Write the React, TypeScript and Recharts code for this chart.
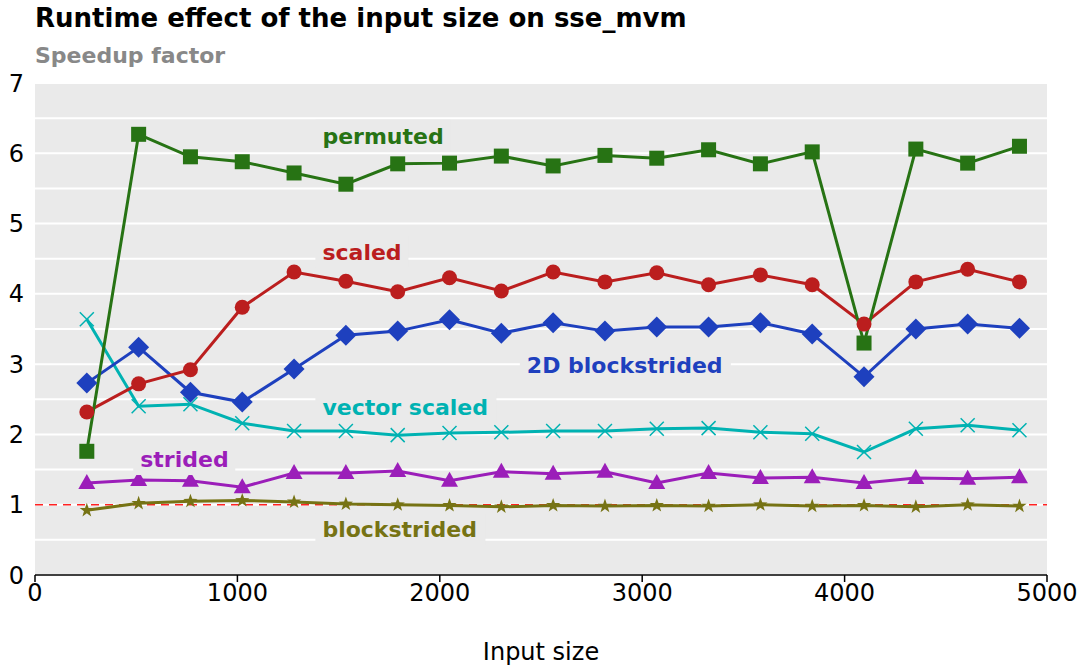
import React from 'react';
import { LineChart, Line, XAxis, YAxis, CartesianGrid, ReferenceLine, ReferenceDot } from 'recharts';

const sizes = [256, 512, 768, 1024, 1280, 1536, 1792, 2048, 2304, 2560, 2816, 3072, 3328, 3584, 3840, 4096, 4352, 4608, 4864];
const permuted = [1.76, 6.27, 5.95, 5.88, 5.72, 5.56, 5.85, 5.86, 5.96, 5.82, 5.97, 5.93, 6.05, 5.85, 6.02, 3.3, 6.06, 5.86, 6.1];
const scaled = [2.32, 2.72, 2.92, 3.81, 4.31, 4.18, 4.03, 4.23, 4.04, 4.31, 4.17, 4.3, 4.13, 4.27, 4.13, 3.57, 4.17, 4.35, 4.17];
const blockstrided2D = [2.73, 3.24, 2.6, 2.46, 2.93, 3.41, 3.47, 3.63, 3.44, 3.59, 3.47, 3.53, 3.53, 3.59, 3.43, 2.82, 3.5, 3.57, 3.51];
const vectorScaled = [3.64, 2.4, 2.43, 2.16, 2.05, 2.05, 1.99, 2.02, 2.03, 2.05, 2.05, 2.08, 2.09, 2.03, 2.01, 1.75, 2.08, 2.13, 2.06];
const strided = [1.31, 1.35, 1.34, 1.25, 1.45, 1.45, 1.48, 1.34, 1.47, 1.44, 1.47, 1.31, 1.45, 1.38, 1.39, 1.31, 1.38, 1.37, 1.39];
const blockstrided = [0.92, 1.02, 1.05, 1.06, 1.04, 1.01, 1.0, 0.99, 0.97, 0.99, 0.98, 0.99, 0.98, 1.0, 0.98, 0.99, 0.97, 1.0, 0.98];

const xTicks = [0, 1000, 2000, 3000, 4000, 5000];
const yTicks = [0, 0.5, 1, 1.5, 2, 2.5, 3, 3.5, 4, 4.5, 5, 5.5, 6, 6.5, 7];

const data = sizes.map((size, i) => ({
  size,
  permuted: permuted[i],
  scaled: scaled[i],
  blockstrided2D: blockstrided2D[i],
  vectorScaled: vectorScaled[i],
  strided: strided[i],
  blockstrided: blockstrided[i],
}));

const C = {
  permuted: '#277314',
  scaled: '#bb1e1e',
  blockstrided2D: '#1e40be',
  vectorScaled: '#00b2b2',
  strided: '#9b1eb9',
  blockstrided: '#767314',
};

const BG = '#eaeaea';
const FONT = '"DejaVu Sans", Verdana, sans-serif';

// series labels written inside the plot
const notes = [
  { text: 'permuted', x: 1420, y: 6.25, color: C.permuted, w: 122 },
  { text: 'scaled', x: 1420, y: 4.6, color: C.scaled, w: 80 },
  { text: '2D blockstrided', x: 2430, y: 2.99, color: C.blockstrided2D, w: 198 },
  { text: 'vector scaled', x: 1420, y: 2.39, color: C.vectorScaled, w: 168 },
  { text: 'strided', x: 520, y: 1.65, color: C.strided, w: 89 },
  { text: 'blockstrided', x: 1420, y: 0.65, color: C.blockstrided, w: 157 },
];

const square = (color: string) => (p: any) => (
  <rect key={p.index} x={p.cx - 7.5} y={p.cy - 7.5} width={15} height={15} fill={color} />
);
const circle = (color: string) => (p: any) => (
  <circle key={p.index} cx={p.cx} cy={p.cy} r={7.5} fill={color} />
);
const diamond = (color: string) => (p: any) => (
  <path key={p.index} d={`M${p.cx},${p.cy - 10.5}L${p.cx + 10.5},${p.cy}L${p.cx},${p.cy + 10.5}L${p.cx - 10.5},${p.cy}Z`} fill={color} />
);
const cross = (color: string) => (p: any) => (
  <path key={p.index} d={`M${p.cx - 7},${p.cy - 7}L${p.cx + 7},${p.cy + 7}M${p.cx - 7},${p.cy + 7}L${p.cx + 7},${p.cy - 7}`} stroke={color} strokeWidth={1.5} fill="none" />
);
const triangle = (color: string) => (p: any) => (
  <path key={p.index} d={`M${p.cx},${p.cy - 9}L${p.cx + 8.5},${p.cy + 6}L${p.cx - 8.5},${p.cy + 6}Z`} fill={color} />
);
const star = (color: string) => (p: any) => {
  const pts: string[] = [];
  for (let k = 0; k < 10; k++) {
    const r = k % 2 === 0 ? 7.5 : 3;
    const a = -Math.PI / 2 + (k * Math.PI) / 5;
    pts.push(`${p.cx + r * Math.cos(a)},${p.cy + r * Math.sin(a)}`);
  }
  return <polygon key={p.index} points={pts.join(' ')} fill={color} />;
};

const noteShape = (n: typeof notes[number]) => (p: any) => (
  <g>
    <rect x={p.cx - 7} y={p.cy - 16} width={n.w + 13} height={32} fill={BG} />
    <text x={p.cx} y={p.cy} dy="0.36em" fill={n.color} fontSize={22} fontWeight="bold" fontFamily={FONT}>
      {n.text}
    </text>
  </g>
);

const YTick = (props: any) => {
  const { x, y, payload } = props;
  if (payload.value % 1 !== 0) return null;
  return (
    <text x={x} y={y} dy="0.36em" textAnchor="end" fontSize={24} fontFamily={FONT} fill="#000">
      {payload.value}
    </text>
  );
};

export default function App() {
  return (
    <div style={{ position: 'absolute', left: 0, top: 0, width: 1091, height: 669, background: '#fff', fontFamily: FONT }}>
      <div style={{ position: 'absolute', left: 35, top: 5, fontSize: 26, lineHeight: '26px', fontWeight: 'bold', color: '#000', whiteSpace: 'nowrap' }}>
        Runtime effect of the input size on sse_mvm
      </div>
      <div style={{ position: 'absolute', left: 35, top: 45, fontSize: 22, lineHeight: '22px', fontWeight: 'bold', color: '#888', whiteSpace: 'nowrap' }}>
        Speedup factor
      </div>
      <LineChart width={1091} height={669} data={data} margin={{ top: 83, right: 44, left: 0, bottom: 0 }}>
        <CartesianGrid vertical={false} stroke="#fff" strokeWidth={2} fill={BG} fillOpacity={1} />
        <XAxis
          dataKey="size"
          type="number"
          domain={[0, 5000]}
          ticks={xTicks}
          height={94}
          axisLine={{ stroke: '#000', strokeWidth: 1.5 }}
          tickLine={{ stroke: '#000', strokeWidth: 1.5 }}
          tickSize={7}
          tickMargin={2}
          tick={{ fill: '#000', fontSize: 24, fontFamily: FONT }}
          label={{ value: 'Input size', position: 'insideBottom', offset: 9, fill: '#000', fontSize: 24, fontFamily: FONT }}
        />
        <YAxis
          type="number"
          domain={[0, 7]}
          ticks={yTicks}
          width={35}
          axisLine={false}
          tickLine={false}
          tickSize={6}
          tickMargin={5}
          interval={0}
          tick={<YTick />}
        />
        <ReferenceLine y={1} stroke="#f22" strokeWidth={1.5} strokeDasharray="8 6" />
        <Line dataKey="blockstrided" stroke={C.blockstrided} strokeWidth={3} dot={star(C.blockstrided)} isAnimationActive={false} />
        <Line dataKey="strided" stroke={C.strided} strokeWidth={3} dot={triangle(C.strided)} isAnimationActive={false} />
        <Line dataKey="vectorScaled" stroke={C.vectorScaled} strokeWidth={3} dot={cross(C.vectorScaled)} isAnimationActive={false} />
        <Line dataKey="blockstrided2D" stroke={C.blockstrided2D} strokeWidth={3} dot={diamond(C.blockstrided2D)} isAnimationActive={false} />
        <Line dataKey="scaled" stroke={C.scaled} strokeWidth={3} dot={circle(C.scaled)} isAnimationActive={false} />
        <Line dataKey="permuted" stroke={C.permuted} strokeWidth={3} dot={square(C.permuted)} isAnimationActive={false} />
        {notes.map((n) => (
          <ReferenceDot key={n.text} x={n.x} y={n.y} r={1} shape={noteShape(n)} />
        ))}
      </LineChart>
    </div>
  );
}
